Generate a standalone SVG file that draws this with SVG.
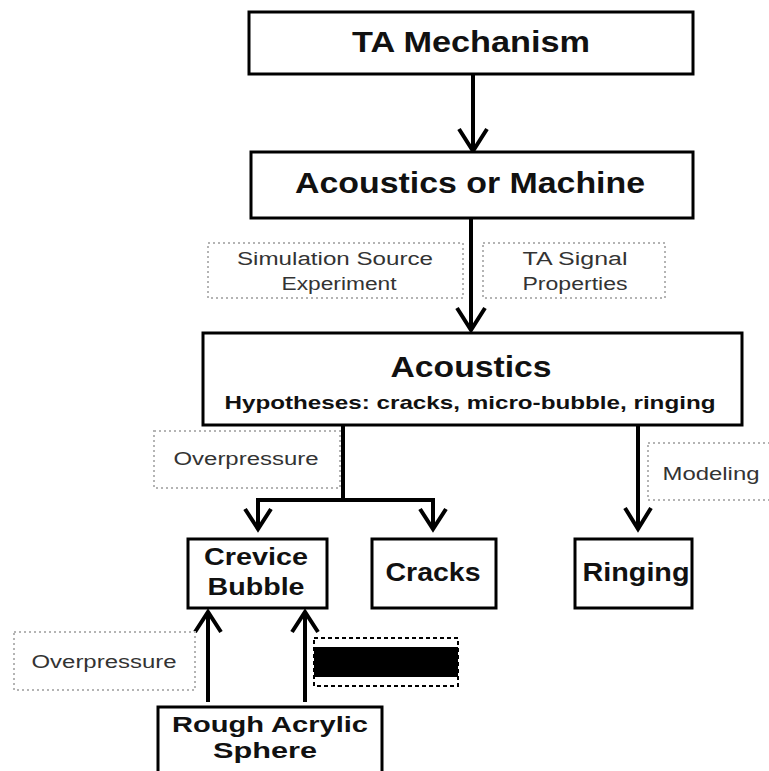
<svg xmlns="http://www.w3.org/2000/svg" width="769" height="771" viewBox="0 0 769 771">
<style>
.box{fill:#fff;stroke:#000;stroke-width:3}
.note{fill:#fff;stroke:#b4b4b4;stroke-width:2;stroke-dasharray:2 3}
.t{font-family:"Liberation Sans",Arial,sans-serif;font-weight:bold;fill:#111;text-anchor:middle}
.n{font-family:"Liberation Sans",Arial,sans-serif;fill:#333;text-anchor:middle;font-size:18px}
.c{fill:none;stroke:#000;stroke-width:4}
.h{fill:none;stroke:#000;stroke-width:4;stroke-linejoin:miter}
</style>
<rect width="769" height="771" fill="#fff"/>
<g id="connectors">
<line class="c" x1="473" y1="74" x2="473" y2="150"/>
<polyline class="h" points="459,129 473,151 487,129"/>
<line class="c" x1="471" y1="218" x2="471" y2="329"/>
<polyline class="h" points="457,308 471,330 485,308"/>
<polyline class="c" points="343,425 343,500"/>
<polyline class="c" points="256,500 435,500"/>
<line class="c" x1="258" y1="500" x2="258" y2="528"/>
<polyline class="h" points="245,509 258,529 271,509"/>
<line class="c" x1="433" y1="500" x2="433" y2="528"/>
<polyline class="h" points="420,509 433,529 446,509"/>
<line class="c" x1="638" y1="425" x2="638" y2="528"/>
<polyline class="h" points="625,508 638,529 651,508"/>
<line class="c" x1="208" y1="702" x2="208" y2="612"/>
<polyline class="h" points="195,632 208,612 221,632"/>
<line class="c" x1="305" y1="702" x2="305" y2="612"/>
<polyline class="h" points="292,632 305,612 318,632"/>
</g>
<g id="ta-mechanism">
<rect class="box" x="249" y="12" width="444" height="62"/>
<text class="t" x="471" y="52" font-size="30" textLength="238" lengthAdjust="spacingAndGlyphs">TA Mechanism</text>
</g>
<g id="acoustics-or-machine">
<rect class="box" x="251" y="152" width="442" height="66"/>
<text class="t" x="470" y="193" font-size="29" textLength="350" lengthAdjust="spacingAndGlyphs">Acoustics or Machine</text>
</g>
<g id="note-simulation">
<rect class="note" x="208" y="243" width="255" height="55"/>
<text class="n" x="335" y="265" textLength="196" lengthAdjust="spacingAndGlyphs">Simulation Source</text>
<text class="n" x="339" y="290" textLength="115" lengthAdjust="spacingAndGlyphs">Experiment</text>
</g>
<g id="note-signal">
<rect class="note" x="483" y="243" width="182" height="55"/>
<text class="n" x="575" y="265" textLength="105" lengthAdjust="spacingAndGlyphs">TA Signal</text>
<text class="n" x="575" y="290" textLength="105" lengthAdjust="spacingAndGlyphs">Properties</text>
</g>
<g id="acoustics">
<rect class="box" x="203" y="333" width="539" height="92"/>
<text class="t" x="471" y="377" font-size="29" textLength="161" lengthAdjust="spacingAndGlyphs">Acoustics</text>
<text class="t" x="470" y="409" font-size="19" textLength="491" lengthAdjust="spacingAndGlyphs">Hypotheses: cracks, micro-bubble, ringing</text>
</g>
<g id="note-overpressure-1">
<rect class="note" x="154" y="431" width="186" height="57"/>
<text class="n" x="246" y="465" textLength="145" lengthAdjust="spacingAndGlyphs">Overpressure</text>
</g>
<g id="note-modeling">
<rect class="note" x="648" y="443" width="130" height="57"/>
<text class="n" x="711" y="480" textLength="97" lengthAdjust="spacingAndGlyphs">Modeling</text>
</g>
<g id="crevice-bubble">
<rect class="box" x="188" y="539" width="139" height="69"/>
<text class="t" x="256" y="565" font-size="24" textLength="104" lengthAdjust="spacingAndGlyphs">Crevice</text>
<text class="t" x="256" y="595" font-size="24" textLength="97" lengthAdjust="spacingAndGlyphs">Bubble</text>
</g>
<g id="cracks">
<rect class="box" x="372" y="539" width="124" height="69"/>
<text class="t" x="433" y="581" font-size="25" textLength="95" lengthAdjust="spacingAndGlyphs">Cracks</text>
</g>
<g id="ringing">
<rect class="box" x="575" y="539" width="117" height="69"/>
<text class="t" x="636" y="581" font-size="25" textLength="107" lengthAdjust="spacingAndGlyphs">Ringing</text>
</g>
<g id="note-overpressure-2">
<rect class="note" x="14" y="632" width="181" height="58"/>
<text class="n" x="104" y="668" textLength="145" lengthAdjust="spacingAndGlyphs">Overpressure</text>
</g>
<g id="redacted-note">
<rect x="314" y="638" width="144" height="48" fill="#fff" stroke="#000" stroke-width="2" stroke-dasharray="4 3"/>
<rect x="314" y="647" width="144" height="30" fill="#000"/>
</g>
<g id="rough-acrylic-sphere">
<rect class="box" x="158" y="707" width="224" height="90"/>
<text class="t" x="270" y="732" font-size="22" textLength="196" lengthAdjust="spacingAndGlyphs">Rough Acrylic</text>
<text class="t" x="265" y="758" font-size="22" textLength="104" lengthAdjust="spacingAndGlyphs">Sphere</text>
</g>
</svg>
